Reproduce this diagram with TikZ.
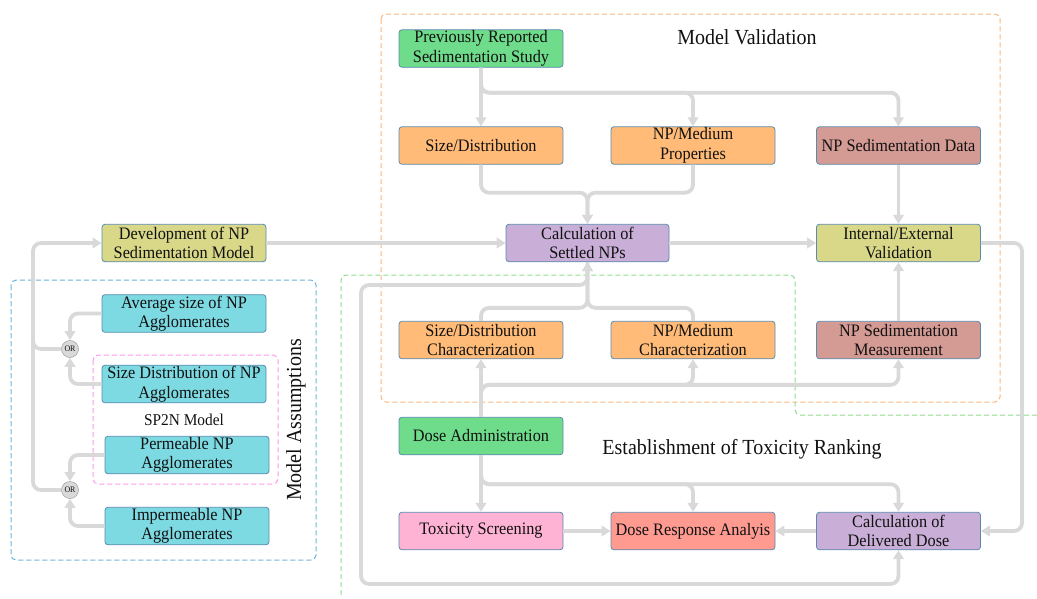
\documentclass[tikz,border=0pt]{standalone}
\usepackage{fontspec}
\setmainfont[FakeStretch=0.93]{Liberation Serif}
\usetikzlibrary{arrows.meta,calc}
\definecolor{cgreen}{HTML}{6EDC8A}
\definecolor{corange}{HTML}{FFBB77}
\definecolor{crose}{HTML}{D49A94}
\definecolor{clav}{HTML}{C9AFD7}
\definecolor{colive}{HTML}{D8D888}
\definecolor{ccyan}{HTML}{7DDAE3}
\definecolor{cpink}{HTML}{FFB3D4}
\definecolor{csalmon}{HTML}{FF9A90}
\definecolor{cborder}{HTML}{5A8BAE}
\definecolor{clinegray}{HTML}{D9D9D9}
\definecolor{dorange}{HTML}{F8B57F}
\definecolor{dgreen}{HTML}{8EDB8E}
\definecolor{dblue}{HTML}{6BB3DA}
\definecolor{dpink}{HTML}{FF99EE}
\definecolor{ctext}{HTML}{111111}
\tikzset{
  box/.style={draw=cborder, line width=0.8pt, rounded corners=3pt,
    minimum width=164pt, minimum height=37.5pt, inner sep=1pt, align=center,
    text=ctext, font=\fontsize{17.5}{19.5}\selectfont},
  conn/.style={draw=clinegray, line width=3.8pt, rounded corners=8pt,
    -{Triangle[length=9pt,width=10.5pt]}},
  connplain/.style={draw=clinegray, line width=3.8pt, rounded corners=8pt},
  ornode/.style={circle, draw=gray!70, fill=clinegray, line width=0.6pt,
    minimum size=17pt, inner sep=0pt, font=\fontsize{8.5}{9}\selectfont, text=ctext},
  dbox/.style={line width=1pt, dash pattern=on 5pt off 3pt, rounded corners=5pt},
  title/.style={font=\fontsize{21.5}{24}\selectfont, text=ctext}
}
\begin{document}
\begin{tikzpicture}[x=1pt,y=-1pt]
\useasboundingbox (0,0) rectangle (1037,598);
% dashed regions
\draw[dbox, draw=dorange] (381,14) rectangle (1000,402);
\draw[dbox, draw=dgreen] (1037,415) -- (795,415) -- (795,275) -- (341,275) -- (341,598);
\draw[dbox, draw=dblue] (11,280) rectangle (316,560);
\draw[dbox, draw=dpink] (93,355) rectangle (278,484);

% titles
\node[title] (tmv) at (747,37) {Model Validation};
\node[title] (tet) at (742,449) {Establishment of Toxicity Ranking};
\node[title, rotate=90] (tma) at (296,420) {Model Assumptions};
\node[font=\fontsize{16.5}{19}\selectfont, text=ctext] (tsp) at (184,420) {SP2N Model};

% nodes
\node[box, fill=cgreen] (prev) at (481,48.5) {Previously Reported\\Sedimentation Study};
\node[box, fill=corange] (sd) at (481,145.5) {Size/Distribution};
\node[box, fill=corange] (npm) at (693,145.5) {NP/Medium\\Properties};
\node[box, fill=crose] (sdd) at (898.5,145.5) {NP Sedimentation Data};
\node[box, fill=clav, minimum width=163pt] (calc) at (587.5,243) {Calculation of\\Settled NPs};
\node[box, fill=colive] (iev) at (898.5,243) {Internal/External\\Validation};
\node[box, fill=colive] (dev) at (184,243) {Development of NP\\Sedimentation Model};
\node[box, fill=corange] (sdc) at (481,340) {Size/Distribution\\Characterization};
\node[box, fill=corange] (npc) at (693,340) {NP/Medium\\Characterization};
\node[box, fill=crose] (nsm) at (898.5,340) {NP Sedimentation\\Measurement};
\node[box, fill=cgreen] (da) at (481,436) {Dose Administration};
\node[box, fill=cpink] (ts) at (481,531) {Toxicity Screening};
\node[box, fill=csalmon] (dra) at (693,531) {Dose Response Analyis};
\node[box, fill=clav] (ddose) at (898.5,531) {Calculation of\\Delivered Dose};
\node[box, fill=ccyan] (avg) at (184,313.5) {Average size of NP\\Agglomerates};
\node[box, fill=ccyan] (sdn) at (184,384) {Size Distribution of NP\\Agglomerates};
\node[box, fill=ccyan] (perm) at (187,455) {Permeable NP\\Agglomerates};
\node[box, fill=ccyan] (imp) at (187,526) {Impermeable NP\\Agglomerates};
\node[ornode] (or1) at (70,349) {OR};
\node[ornode] (or2) at (70,490) {OR};

\coordinate (lx) at (33,0);
\coordinate (loopx) at (361,0);
\coordinate (rx) at (1022,0);

% connectors
\draw[conn] (dev.east) -- (calc.west);
\draw[conn] (calc.east) -- (iev.west);
\draw[conn] (iev.east) -| ($(rx)+(0,400)$) |- (ddose.east);
\draw[conn] (prev.south) -- (sd.north);
\draw[conn] (prev.south) -- ++(0,25) -| (npm.north);
\draw[conn] (prev.south) -- ++(0,25) -| (sdd.north);
\draw[conn] (sd.south) -- ++(0,28) -| (calc.north);
\draw[conn] (npm.south) -- ++(0,28) -| (calc.north);
\draw[conn] (sdd.south) -- (iev.north);
\draw[conn] (nsm.north) -- (iev.south);
\draw[conn] (sdc.north) -- ++(0,-13) -| (calc.south);
\draw[conn] (npc.north) -- ++(0,-13) -| (calc.south);
\draw[conn] (calc.south) |- ($(loopx)+(0,285)$) -- ($(loopx)+(0,584)$) -| (ddose.south);
\draw[conn] (da.north) -- (sdc.south);
\draw[conn] (da.north) -- ++(0,-32) -| (npc.south);
\draw[conn] (da.north) -- ++(0,-32) -| (nsm.south);
\draw[conn] (da.south) -- (ts.north);
\draw[conn] (da.south) -- ++(0,29) -| (dra.north);
\draw[conn] (da.south) -- ++(0,29) -| (ddose.north);
\draw[conn] (ts.east) -- (dra.west);
\draw[conn] (ddose.west) -- (dra.east);
% left assumptions
\draw[conn] (avg.west) -| (or1.north);
\draw[conn] (sdn.west) -| (or1.south);
\draw[conn] (perm.west) -| (or2.north);
\draw[conn] (imp.west) -| (or2.south);
\draw[connplain] (or1.west) -| ($(lx)+(0,300)$);
\draw[conn] (or2.west) -| ($(lx)+(0,243)$) -- (dev.west);
\end{tikzpicture}
\end{document}
